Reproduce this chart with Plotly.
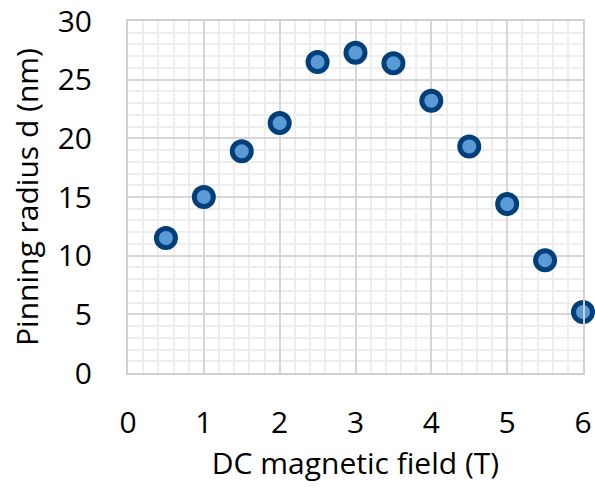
import plotly.graph_objects as go

field_T = [0.5, 1, 1.5, 2, 2.5, 3, 3.5, 4, 4.5, 5, 5.5, 6]
radius_nm = [11.5, 15.0, 18.9, 21.3, 26.5, 27.3, 26.4, 23.2, 19.3, 14.4, 9.6, 5.2]

fig = go.Figure()
fig.add_trace(go.Scatter(
    x=field_T, y=radius_nm, mode="markers",
    marker=dict(size=19, color="#5B9BD5", line=dict(color="#003F7A", width=5)),
    cliponaxis=False,
))

font = "Open Sans, sans-serif"
fs = 30
fig.update_layout(
    width=595, height=493,
    margin=dict(l=128, r=12, t=21, b=120),
    plot_bgcolor="white", paper_bgcolor="white",
    showlegend=False,
    font=dict(family=font, size=fs, color="#000000"),
    xaxis=dict(
        range=[0, 6], dtick=1, tick0=0, automargin=False,
        showgrid=True, gridcolor="#D6D6D6", gridwidth=1.5,
        minor=dict(dtick=0.2, showgrid=True, gridcolor="#EEEEEE", gridwidth=1.5),
        showline=True, linecolor="#D0D0D0", linewidth=2, mirror=True,
        zeroline=False, ticks="", ticklabelstandoff=22, ticklabeloverflow="allow",
        tickfont=dict(size=fs),
        title=dict(text="DC magnetic field (T)", font=dict(size=fs), standoff=12),
    ),
    yaxis=dict(
        range=[0, 30], dtick=5, tick0=0, automargin=False,
        showgrid=True, gridcolor="#D6D6D6", gridwidth=1.5,
        minor=dict(dtick=1, showgrid=True, gridcolor="#EEEEEE", gridwidth=1.5),
        showline=True, linecolor="#D0D0D0", linewidth=2, mirror=True,
        zeroline=False, ticks="", ticklabelstandoff=28, ticklabeloverflow="allow",
        tickfont=dict(size=fs),
        title=dict(text="Pinning radius d (nm)", font=dict(size=fs), standoff=10),
    ),
)
fig.write_html("out.html", config={"displayModeBar": False},
               post_script="document.body.style.margin='0';")
